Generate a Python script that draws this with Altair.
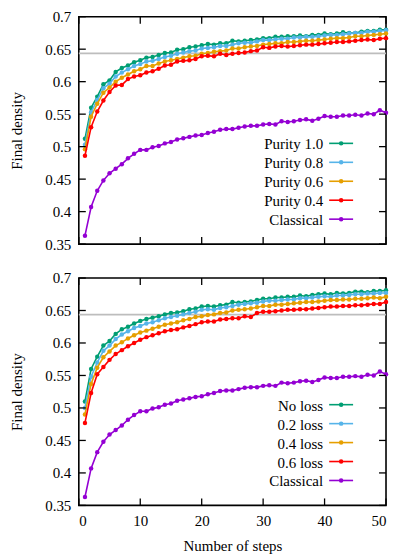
import altair as alt
import pandas as pd

# ---------------- data ----------------
steps = list(range(1, 51))

top_names = ["Purity 1.0", "Purity 0.8", "Purity 0.6", "Purity 0.4", "Classical"]
bottom_names = ["No loss", "0.2 loss", "0.4 loss", "0.6 loss", "Classical"]
colors = ["#009e73", "#56b4e9", "#e69f00", "#ff0000", "#9400d3"]

top_p10 = [0.512, 0.560, 0.577, 0.596, 0.602, 0.615, 0.621, 0.625, 0.630, 0.633,
           0.637, 0.638, 0.641, 0.644, 0.645, 0.649, 0.650, 0.653, 0.654, 0.656,
           0.658, 0.657, 0.659, 0.659, 0.663, 0.662, 0.663, 0.664, 0.665, 0.667,
           0.667, 0.669, 0.669, 0.670, 0.670, 0.671, 0.670, 0.672, 0.672, 0.674,
           0.673, 0.674, 0.676, 0.675, 0.675, 0.677, 0.678, 0.678, 0.680, 0.680]
top_p08 = [0.503, 0.553, 0.572, 0.590, 0.597, 0.608, 0.614, 0.619, 0.624, 0.627,
           0.631, 0.632, 0.635, 0.638, 0.640, 0.643, 0.645, 0.647, 0.648, 0.651,
           0.652, 0.653, 0.655, 0.655, 0.657, 0.659, 0.660, 0.660, 0.662, 0.664,
           0.664, 0.665, 0.666, 0.666, 0.668, 0.668, 0.669, 0.669, 0.670, 0.671,
           0.672, 0.672, 0.673, 0.674, 0.675, 0.675, 0.677, 0.677, 0.678, 0.679]
top_p06 = [0.496, 0.546, 0.566, 0.583, 0.591, 0.600, 0.606, 0.611, 0.616, 0.619,
           0.624, 0.624, 0.628, 0.631, 0.633, 0.635, 0.637, 0.639, 0.640, 0.643,
           0.644, 0.646, 0.647, 0.648, 0.651, 0.651, 0.653, 0.654, 0.655, 0.657,
           0.658, 0.659, 0.659, 0.661, 0.661, 0.662, 0.663, 0.663, 0.664, 0.665,
           0.666, 0.667, 0.667, 0.668, 0.670, 0.670, 0.671, 0.672, 0.673, 0.674]
top_p04 = [0.486, 0.530, 0.554, 0.571, 0.584, 0.594, 0.595, 0.604, 0.608, 0.610,
           0.614, 0.616, 0.620, 0.625, 0.626, 0.631, 0.632, 0.633, 0.635, 0.639,
           0.640, 0.639, 0.643, 0.641, 0.643, 0.644, 0.645, 0.647, 0.648, 0.653,
           0.652, 0.654, 0.655, 0.654, 0.655, 0.656, 0.657, 0.657, 0.658, 0.659,
           0.660, 0.661, 0.661, 0.662, 0.663, 0.664, 0.665, 0.664, 0.666, 0.667]
classical = [0.363, 0.407, 0.432, 0.448, 0.459, 0.466, 0.473, 0.482, 0.489, 0.495,
             0.495, 0.499, 0.501, 0.505, 0.507, 0.511, 0.513, 0.515, 0.517, 0.518,
             0.521, 0.523, 0.526, 0.527, 0.527, 0.529, 0.531, 0.532, 0.532, 0.534,
             0.535, 0.534, 0.539, 0.538, 0.539, 0.541, 0.542, 0.540, 0.543, 0.547,
             0.546, 0.546, 0.548, 0.548, 0.549, 0.548, 0.551, 0.550, 0.556, 0.552]

bot_l00 = [0.510, 0.560, 0.579, 0.596, 0.603, 0.614, 0.621, 0.625, 0.630, 0.634,
           0.637, 0.639, 0.641, 0.644, 0.646, 0.647, 0.649, 0.652, 0.653, 0.656,
           0.657, 0.656, 0.658, 0.659, 0.663, 0.662, 0.663, 0.664, 0.666, 0.668,
           0.668, 0.670, 0.670, 0.671, 0.671, 0.673, 0.672, 0.674, 0.675, 0.676,
           0.675, 0.677, 0.676, 0.677, 0.679, 0.679, 0.678, 0.680, 0.680, 0.681]
bot_l02 = [0.500, 0.548, 0.570, 0.588, 0.596, 0.606, 0.613, 0.618, 0.623, 0.626,
           0.630, 0.632, 0.635, 0.638, 0.640, 0.642, 0.644, 0.646, 0.648, 0.651,
           0.652, 0.651, 0.654, 0.655, 0.657, 0.659, 0.660, 0.661, 0.662, 0.664,
           0.665, 0.665, 0.666, 0.667, 0.667, 0.669, 0.669, 0.670, 0.671, 0.672,
           0.671, 0.673, 0.673, 0.674, 0.675, 0.675, 0.676, 0.676, 0.677, 0.677]
bot_l04 = [0.490, 0.537, 0.562, 0.578, 0.587, 0.596, 0.601, 0.607, 0.612, 0.616,
           0.619, 0.622, 0.625, 0.628, 0.630, 0.632, 0.635, 0.637, 0.640, 0.641,
           0.643, 0.644, 0.646, 0.647, 0.650, 0.651, 0.652, 0.653, 0.655, 0.657,
           0.657, 0.659, 0.659, 0.660, 0.661, 0.662, 0.663, 0.663, 0.664, 0.665,
           0.666, 0.666, 0.667, 0.667, 0.668, 0.668, 0.669, 0.670, 0.669, 0.671]
bot_l06 = [0.477, 0.523, 0.552, 0.563, 0.574, 0.583, 0.589, 0.595, 0.600, 0.605,
           0.609, 0.612, 0.615, 0.618, 0.620, 0.621, 0.624, 0.626, 0.629, 0.632,
           0.633, 0.633, 0.636, 0.637, 0.638, 0.638, 0.641, 0.640, 0.646, 0.648,
           0.648, 0.649, 0.650, 0.651, 0.651, 0.652, 0.652, 0.653, 0.654, 0.655,
           0.656, 0.656, 0.657, 0.657, 0.658, 0.658, 0.659, 0.660, 0.660, 0.663]

reference_density = 0.6436
x_ticks = [0, 10, 20, 30, 40, 50]
y_ticks = [0.35, 0.4, 0.45, 0.5, 0.55, 0.6, 0.65, 0.7]

# ---------------- layout / style ----------------
W, H = 308, 228
FONT = "Liberation Serif"
FS = 15
TICK = 7


def panel(names, series, show_x):
    rows = []
    for name, vals in zip(names, series):
        for s, v in zip(steps, vals):
            rows.append({"step": s, "density": v, "series": name})
    df = pd.DataFrame(rows)

    if show_x:
        x_axis = alt.Axis(values=x_ticks, ticks=False, domain=False, grid=False,
                          labelPadding=8, titlePadding=10, title="Number of steps",
                          labelFont=FONT, labelFontSize=FS, labelColor="black",
                          titleFont=FONT, titleFontSize=FS, titleColor="black",
                          titleFontWeight="normal")
    else:
        x_axis = None
    y_axis = alt.Axis(values=y_ticks, format=".2~f", ticks=False, domain=False,
                      grid=False, labelPadding=8, titlePadding=20,
                      title="Final density",
                      labelFont=FONT, labelFontSize=FS, labelColor="black",
                      titleFont=FONT, titleFontSize=FS, titleColor="black",
                      titleFontWeight="normal")
    xs = alt.Scale(domain=[0, 50], nice=False)
    ys = alt.Scale(domain=[0.35, 0.7], nice=False, zero=False)

    base = alt.Chart(df)
    layers = []
    layers.append(
        alt.Chart(pd.DataFrame({"v": [reference_density]})).mark_rule(
            color="#bdbdbd", strokeWidth=1.6
        ).encode(y=alt.Y("v:Q", scale=ys, axis=y_axis))
    )
    for name, col in zip(names, colors):
        sub = base.transform_filter(alt.datum.series == name)
        layers.append(
            sub.mark_line(color=col, strokeWidth=1.6).encode(
                x=alt.X("step:Q", scale=xs, axis=x_axis),
                y=alt.Y("density:Q", scale=ys, axis=y_axis),
            )
        )
        layers.append(
            sub.mark_circle(color=col, size=20, opacity=1).encode(
                x=alt.X("step:Q", scale=xs, axis=x_axis),
                y=alt.Y("density:Q", scale=ys, axis=y_axis),
            )
        )
    ydf = pd.DataFrame({"v": y_ticks})
    xdf = pd.DataFrame({"v": x_ticks})
    tk = dict(color="black", strokeWidth=1.3)
    layers.append(alt.Chart(ydf).mark_rule(**tk).encode(
        y=alt.Y("v:Q", scale=ys, axis=y_axis), x=alt.value(0), x2=alt.value(TICK)))
    layers.append(alt.Chart(ydf).mark_rule(**tk).encode(
        y=alt.Y("v:Q", scale=ys, axis=y_axis), x=alt.value(W - TICK), x2=alt.value(W)))
    layers.append(alt.Chart(xdf).mark_rule(**tk).encode(
        x=alt.X("v:Q", scale=xs, axis=x_axis), y=alt.value(0), y2=alt.value(TICK)))
    layers.append(alt.Chart(xdf).mark_rule(**tk).encode(
        x=alt.X("v:Q", scale=xs, axis=x_axis), y=alt.value(H - TICK), y2=alt.value(H)))
    main = alt.layer(*layers)

    leg = pd.DataFrame({"series": names, "idx": list(range(len(names)))})
    ly = alt.Y("idx:Q", scale=alt.Scale(domain=[0, 4], range=[H - 101, H - 25]), axis=None)
    cs = alt.Color("series:N", scale=alt.Scale(domain=names, range=colors), legend=None)
    legend = alt.layer(
        alt.Chart(leg).mark_text(align="right", baseline="middle", font=FONT,
                                 fontSize=FS, color="black", dy=1).encode(
            y=ly, x=alt.value(245), text="series:N"),
        alt.Chart(leg).mark_rule(strokeWidth=1.6).encode(
            y=ly, x=alt.value(251), x2=alt.value(275), color=cs),
        alt.Chart(leg).mark_circle(size=20, opacity=1).encode(
            y=ly, x=alt.value(263), color=cs),
    )
    return alt.layer(main, legend).resolve_scale(y="independent").properties(width=W, height=H)


top = panel(top_names, [top_p10, top_p08, top_p06, top_p04, classical], False)
bottom = panel(bottom_names, [bot_l00, bot_l02, bot_l04, bot_l06, classical], True)

chart = alt.vconcat(top, bottom, spacing=17).properties(padding=0).configure(
    font=FONT
).configure_view(
    stroke="black", strokeWidth=1.6
).configure_axis(
    labelFont=FONT, labelFontSize=FS, labelColor="black",
    titleFont=FONT, titleFontSize=FS, titleColor="black", titleFontWeight="normal",
).configure_text(font=FONT)

chart.save("out.html", embed_options={"renderer": "svg", "actions": False})
